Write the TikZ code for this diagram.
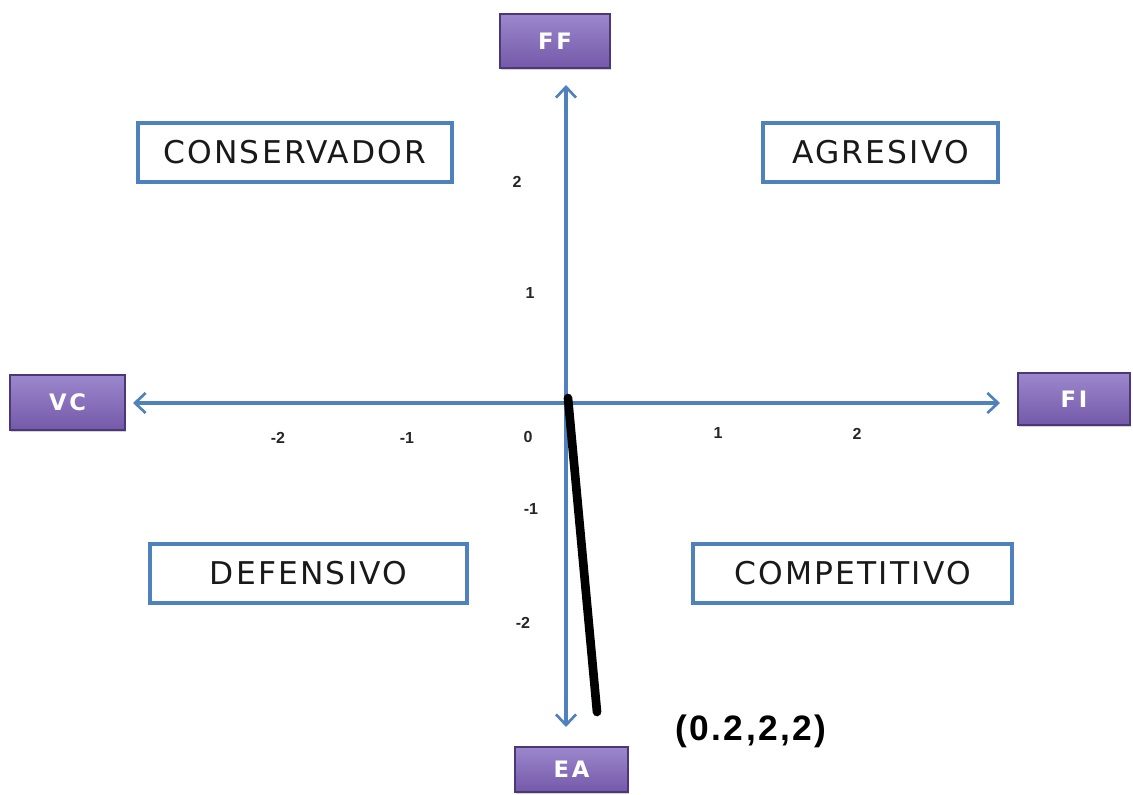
\documentclass[tikz,border=0pt]{standalone}
\usepackage{fontspec}
\setmainfont{DejaVu Sans}
\newfontfamily\boxfont[LetterSpace=7]{DejaVu Sans}
\newfontfamily\labfont[LetterSpace=12]{DejaVu Sans}
\newfontfamily\tickfont{Liberation Sans}
\newfontfamily\ptfont[LetterSpace=7]{Liberation Sans}
\usetikzlibrary{arrows.meta,shadows}
\definecolor{axisblue}{HTML}{4F81BD}
\definecolor{purptop}{HTML}{9C87CC}
\definecolor{purpbot}{HTML}{7459A9}
\definecolor{purpdark}{HTML}{4A3878}
\begin{document}
\begin{tikzpicture}[x=0.75pt,y=-0.75pt,
  quad/.style={draw=axisblue, line width=2.8pt, fill=white, inner sep=0pt,
    font=\boxfont\fontsize{23.5}{26}\selectfont, text=black!90},
  axlab/.style={draw=purpdark, line width=0.9pt, top color=purptop, bottom color=purpbot,
    text=white, inner sep=0pt, font=\labfont\bfseries\fontsize{17}{20}\selectfont,
    drop shadow={shadow xshift=1pt, shadow yshift=-1.5pt, opacity=0.35}},
  tick/.style={font=\tickfont\bfseries\fontsize{12}{13}\selectfont, text=black!85},
  axisarrow/.style={draw=axisblue, line width=2.3pt,
    {Straight Barb[length=8pt,width=15pt,line width=2pt]}-{Straight Barb[length=8pt,width=15pt,line width=2pt]}},
  result/.style={line width=6.5pt, line cap=round, draw=black}
]
\path[use as bounding box] (0,0) rectangle (1133,794);

% quadrant boxes
\node[quad, minimum width=314*0.75pt, minimum height=59*0.75pt] (cons) at (295,152.5) {CONSERVADOR};
\node[quad, minimum width=235*0.75pt, minimum height=59*0.75pt] (agre) at (880.5,152.5) {AGRESIVO};
\node[quad, minimum width=317*0.75pt, minimum height=59*0.75pt] (defe) at (308.5,573.5) {DEFENSIVO};
\node[quad, minimum width=319*0.75pt, minimum height=59*0.75pt] (comp) at (852.5,573.5) {COMPETITIVO};

% axis end labels
\node[axlab, minimum width=110*0.75pt, minimum height=54*0.75pt] (ff) at (555,41) {FF};
\node[axlab, minimum width=115*0.75pt, minimum height=55*0.75pt] (vc) at (67.5,402.5) {VC};
\node[axlab, minimum width=112*0.75pt, minimum height=52*0.75pt] (fi) at (1074,399) {FI};
\node[axlab, minimum width=113*0.75pt, minimum height=45*0.75pt] (ea) at (571.5,769.5) {EA};

% axes
\coordinate (ytop) at (566,85);
\coordinate (ybot) at (566,727);
\coordinate (xleft) at (133,403);
\coordinate (xright) at (1000,403);
\draw[axisarrow] (ybot) -- (ytop);
\draw[axisarrow] (xleft) -- (xright);

% ticks
\node[tick] (ty2) at (517,182) {2};
\node[tick] (ty1) at (530,293) {1};
\node[tick] (tym1) at (531,509) {-1};
\node[tick] (tym2) at (523,623) {-2};
\node[tick] (tx0) at (528,437) {0};
\node[tick] (txm1) at (407,438) {-1};
\node[tick] (txm2) at (278,438) {-2};
\node[tick] (tx1) at (718,433) {1};
\node[tick] (tx2) at (857,434) {2};

% result line
\coordinate (o) at (568,398);
\coordinate (p) at (597,712);
\draw[result] (o) -- (p);
\node[font=\ptfont\bfseries\fontsize{26.5}{30}\selectfont] (pt) at (751,731) {(0.2,2,2)};
\end{tikzpicture}
\end{document}
